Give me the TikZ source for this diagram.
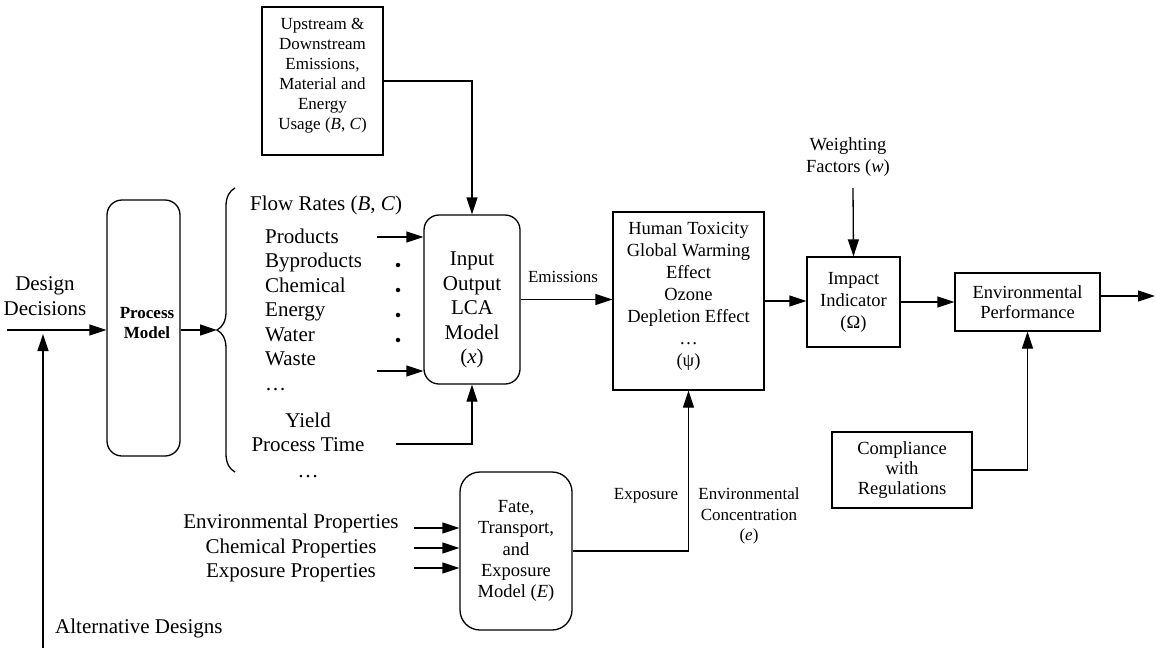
\documentclass[tikz,border=0pt]{standalone}
\usepackage{fontspec}
\setmainfont{Liberation Serif}
\usetikzlibrary{arrows.meta,decorations.pathreplacing}
\begin{document}
\begin{tikzpicture}[x=1pt,y=-1pt,
  lw/.style={line width=1.3pt},
  box/.style={draw,lw,inner sep=0pt,align=center},
  rbox/.style={box,rounded corners=15pt},
  arr/.style={lw,-{Triangle[length=17pt,width=11pt]}},
  brc/.style={lw,decorate,decoration={brace,amplitude=18pt}},
  txtA/.style={inner sep=0pt,align=center,font=\fontsize{21}{24.5}\selectfont},
  txtB/.style={inner sep=0pt,align=center,font=\fontsize{18.5}{22}\selectfont},
  txtC/.style={inner sep=0pt,align=center,font=\fontsize{17}{20}\selectfont},
  dotn/.style={circle,fill,inner sep=0pt,minimum size=4.5pt}]
\useasboundingbox (0,0) rectangle (1156,648);

% ---------- boxes ----------
\node[rbox,minimum width=73pt,minimum height=256pt] (pm) at (143.5,328) {};
\node[txtC,font=\fontsize{17}{20}\selectfont\bfseries] (pmt) at (147,323) {Process\\Model};

\node[box,minimum width=121pt,minimum height=148pt] (up) at (322.5,81) {};
\node[txtC] (upt) at (322.5,76) {Upstream \&\\Downstream\\Emissions,\\Material and\\Energy\\Usage (\textit{B}, \textit{C})};

\node[rbox,minimum width=96pt,minimum height=169pt] (io) at (472,299.5) {};
\node[txtA] (iot) at (472,310) {Input\\Output\\LCA\\Model\\(\textit{x})};

\node[box,minimum width=151pt,minimum height=178pt] (psi) at (688.5,301) {};
\node[txtB] (psit) at (688.5,296) {Human Toxicity\\Global Warming\\Effect\\Ozone\\Depletion Effect\\…\\(ψ)};

\node[box,txtB,minimum width=93pt,minimum height=90pt] (imp) at (853.5,302) {Impact\\Indicator\\(Ω)};
\node[box,txtB,minimum width=145pt,minimum height=58pt,font=\fontsize{18.5}{20}\selectfont] (env) at (1027.5,302) {Environmental\\Performance};
\node[box,txtB,minimum width=140pt,minimum height=76pt,font=\fontsize{18.5}{20}\selectfont] (comp) at (902,470) {Compliance\\with\\Regulations};
\node[rbox,txtB,rounded corners=20pt,minimum width=112pt,minimum height=158pt,font=\fontsize{18.5}{21.3}\selectfont] (fate) at (516,551) {Fate,\\Transport,\\and\\Exposure\\Model (\textit{E})};

% ---------- free labels ----------
\node[txtA] (dd) at (45,296) {Design\\Decisions};
\node[txtA,anchor=base west] (alt) at (55,633) {Alternative Designs};
\node[txtA,anchor=base west] (fr) at (250,210) {Flow Rates (\textit{B}, \textit{C})};
\node[txtA,anchor=base west] (l1) at (265,243) {Products};
\node[txtA,anchor=base west] (l2) at (265,267.5) {Byproducts};
\node[txtA,anchor=base west] (l3) at (265,292) {Chemical};
\node[txtA,anchor=base west] (l4) at (265,316.5) {Energy};
\node[txtA,anchor=base west] (l5) at (265,341) {Water};
\node[txtA,anchor=base west] (l6) at (265,365.5) {Waste};
\node[txtA,anchor=base west] (l7) at (265,390) {…};
\node[txtA,anchor=base] (y1) at (308,427) {Yield};
\node[txtA,anchor=base] (y2) at (308,451) {Process Time};
\node[txtA,anchor=base] (y3) at (308,477) {…};
\node[dotn] (d1) at (398,265) {};
\node[dotn] (d2) at (398,290) {};
\node[dotn] (d3) at (398,315) {};
\node[dotn] (d4) at (398,340) {};
\node[txtC] (em) at (563,277) {Emissions};
\node[txtB] (wf) at (848,157) {Weighting\\Factors (\textit{w})};
\node[txtA] (props) at (291,548) {Environmental Properties\\Chemical Properties\\Exposure Properties};
\node[txtC] (expo) at (646,496) {Exposure};
\node[txtC,font=\fontsize{17}{20.5}\selectfont] (conc) at (749,516) {Environmental\\Concentration\\(\textit{e})};

% ---------- coordinates ----------
\coordinate (ddstart) at (7,330);
\coordinate (altstart) at (43,648);
\coordinate (altend) at (43,334);
\coordinate (bracetip) at (217,330);
\coordinate (brbot) at (235,472);
\coordinate (brtop) at (235,188);
\coordinate (pa) at (377,237);
\coordinate (wa) at (377,371);
\coordinate (pt) at (396,444);
\coordinate (wtop) at (853,188);
\coordinate (out) at (1155,296);
\coordinate (p1) at (414,528);
\coordinate (p2) at (414,548);
\coordinate (p3) at (414,568);

% ---------- connectors ----------
\draw[arr] (ddstart) -- (pm.west |- ddstart);
\draw[arr] (altstart) -- (altend);
\draw[arr] (pm.east |- bracetip) -- (bracetip);
\draw[brc] (brbot) -- (brtop);
\draw[arr] (up.east) -| (io.north);
\draw[arr] (pa) -- (pa -| io.west);
\draw[arr] (wa) -- (wa -| io.west);
\draw[arr] (pt) -| (io.south);
\draw[arr] (io.east) -- (io.east -| psi.west);
\draw[arr] (psi.east) -- (psi.east -| imp.west);
\draw[arr] (imp.east) -- (env.west);
\draw[arr] (env.east |- out) -- (out);
\draw[arr] (wtop) -- (imp.north);
\draw[arr] (comp.east) -| (env.south);
\draw[arr] (p1) -- (p1 -| fate.west);
\draw[arr] (p2) -- (p2 -| fate.west);
\draw[arr] (p3) -- (p3 -| fate.west);
\draw[arr] (fate.east) -| (psi.south);
\end{tikzpicture}
\end{document}
